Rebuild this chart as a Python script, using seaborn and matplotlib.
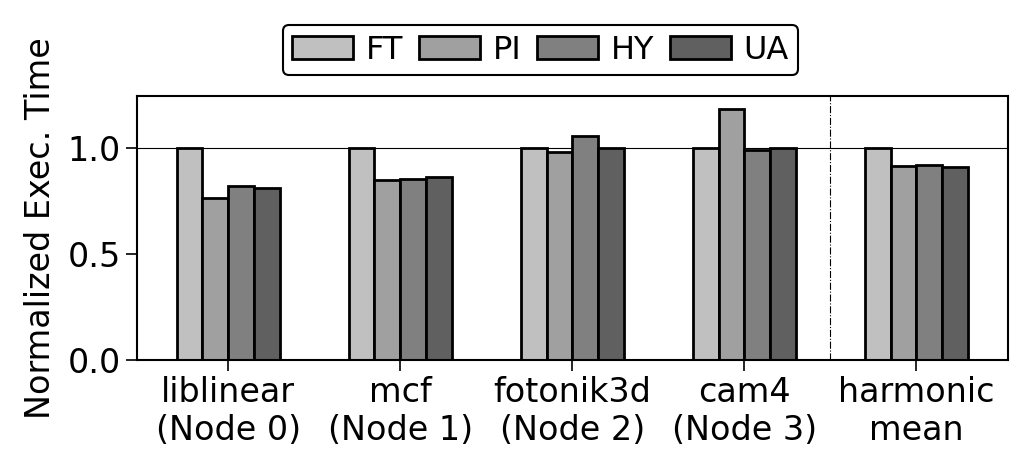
import seaborn as sns
import matplotlib
matplotlib.use("Agg")
import matplotlib.pyplot as plt
import pandas as pd

# valores
benchmarks = ["liblinear\n(Node 0)", "mcf\n(Node 1)", "fotonik3d\n(Node 2)",
              "cam4\n(Node 3)", "harmonic\nmean"]
policies = ["FT", "PI", "HY", "UA"]
ft = [1.0, 1.0, 1.0, 1.0, 1.0]
pi = [0.763, 0.849, 0.983, 1.186, 0.915]
hy = [0.821, 0.852, 1.058, 0.989, 0.918]
ua = [0.813, 0.862, 0.998, 0.999, 0.909]
cores = ["#c0c0c0", "#a0a0a0", "#808080", "#606060"]

df = pd.DataFrame({"bench": benchmarks, "FT": ft, "PI": pi, "HY": hy, "UA": ua})
df = df.melt(id_vars="bench", var_name="policy", value_name="time")

sns.set_style("ticks", {"axes.edgecolor": "black", "text.color": "black",
                        "axes.labelcolor": "black", "xtick.color": "black",
                        "ytick.color": "black"})
plt.rcParams["font.family"] = ["DejaVu Sans"]
fs = 24

fig = plt.figure(figsize=(10.16, 4.49), dpi=100)
ax = fig.add_axes([0.1348, 0.198, 0.857, 0.588])

sns.barplot(data=df, x="bench", y="time", hue="policy", hue_order=policies,
            palette=cores, width=0.6, saturation=1, edgecolor="black",
            linewidth=2.0, ax=ax)

ax.axhline(1.0, color="black", linewidth=0.8, zorder=0)
ax.axvline(3.5, color="black", linewidth=0.8, linestyle="-.")

ax.set_xlim(-0.53, 4.53)
ax.set_ylim(0, 1.245)
ax.set_yticks([0.0, 0.5, 1.0])
ax.set_xlabel("")
ax.set_ylabel("Normalized Exec. Time", fontsize=fs, labelpad=8)
ax.tick_params(axis="both", labelsize=fs, length=8, width=1.2, direction="out")
for s in ax.spines.values():
    s.set_linewidth(1.5)
    s.set_visible(True)

ax.get_legend().remove()
handles, labels = ax.get_legend_handles_labels()
leg = fig.legend(handles, labels, loc="upper center", ncol=4,
                 bbox_to_anchor=(0.532, 0.98), fontsize=23, frameon=True,
                 fancybox=True, edgecolor="black", framealpha=1,
                 handlelength=1.9, handleheight=0.72, handletextpad=0.4,
                 columnspacing=0.5, borderpad=0.3)
leg.get_frame().set_linewidth(1.5)

fig.savefig("out.png", dpi=100)
